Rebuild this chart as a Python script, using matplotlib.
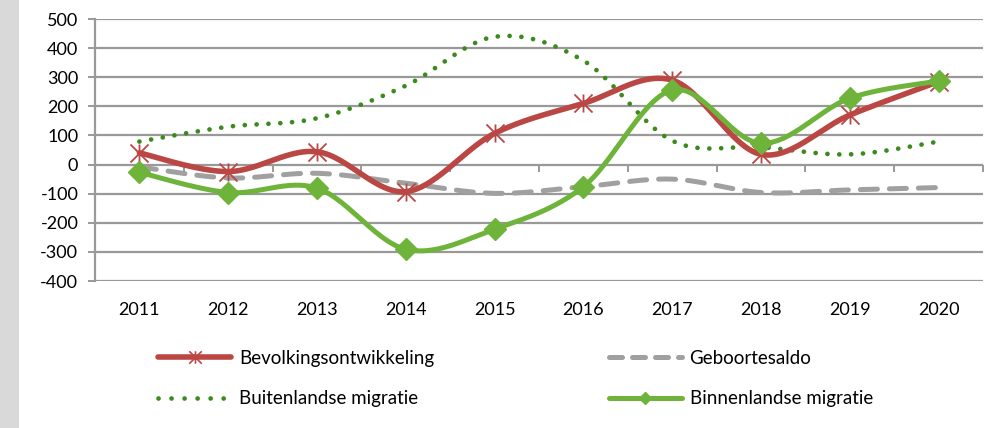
import numpy as np
import matplotlib
matplotlib.use('Agg')
import matplotlib.pyplot as plt
from matplotlib.path import Path
from matplotlib.lines import Line2D
from matplotlib.patches import Rectangle

years = ['2011', '2012', '2013', '2014', '2015', '2016', '2017', '2018', '2019', '2020']
bevolking = [40, -24, 44, -93, 107, 210, 290, 35, 170, 285]
geboorte = [-8, -46, -30, -64, -99, -76, -50, -96, -87, -79]
buiten = [79, 130, 159, 271, 439, 357, 82, 60, 35, 79]
binnen = [-27, -96, -81, -291, -222, -76, 256, 73, 228, 287]
labels = ['Bevolkingsontwikkeling', 'Geboortesaldo', 'Buitenlandse migratie', 'Binnenlandse migratie']
yticks = list(range(-400, 501, 100))

plt.rcParams['font.family'] = ['Lato', 'DejaVu Sans']
plt.rcParams['axes.unicode_minus'] = False

RED = '#BA4744'
GREY = '#A0A0A0'
DGREEN = '#3C8A1E'
LGREEN = '#6FB43A'
GRID = '#999999'


def smooth(x, y, n=30):
    """Excel-style smoothed curve (Catmull-Rom Bezier) through the data points."""
    P = np.column_stack([x, y]).astype(float)
    m = len(P)
    out = []
    for i in range(m - 1):
        p0 = P[i - 1] if i > 0 else P[i]
        p1 = P[i]
        p2 = P[i + 1]
        p3 = P[i + 2] if i + 2 < m else P[i + 1]
        c1 = p1 + (p2 - p0) / 6.0
        c2 = p2 - (p3 - p1) / 6.0
        t = np.linspace(0, 1, n)[:, None]
        seg = ((1 - t) ** 3) * p1 + 3 * ((1 - t) ** 2) * t * c1 + 3 * (1 - t) * t ** 2 * c2 + t ** 3 * p2
        if i > 0:
            seg = seg[1:]
        out.append(seg)
    out = np.vstack(out)
    return out[:, 0], out[:, 1]


star = Path([(0, -1), (0, 1), (-1, -1), (1, 1), (-1, 1), (1, -1)],
            [Path.MOVETO, Path.LINETO, Path.MOVETO, Path.LINETO, Path.MOVETO, Path.LINETO])

fig = plt.figure(figsize=(9.91, 4.28), dpi=100)
fig.patches.append(Rectangle((0, 0), 19 / 991, 1, transform=fig.transFigure,
                             facecolor='#D9D9D9', edgecolor='none', zorder=0))

ax = fig.add_axes([95 / 991, 1 - 281 / 428, (983 - 95) / 991, (281 - 19) / 428])
x = np.arange(len(years))
ymin, ymax = yticks[0], yticks[-1]
ax.set_xlim(-0.5, len(years) - 0.5)
ax.set_ylim(ymin, ymax)

for v in yticks:
    ax.axhline(v, color=GRID, lw=1.6, zorder=1)

for s in ['top', 'right', 'bottom']:
    ax.spines[s].set_visible(False)
ax.spines['left'].set_color(GRID)
ax.spines['left'].set_linewidth(1.6)

ax.set_yticks(yticks)
ax.tick_params(axis='y', length=5, width=1.4, color=GRID, pad=7, labelsize=13)
ax.set_xticks(x)
ax.set_xticklabels(years)
ax.tick_params(axis='x', length=0, pad=15, labelsize=13)

sec = ax.secondary_xaxis((0 - ymin) / (ymax - ymin))
sec.set_xticks(np.arange(len(years) + 1) - 0.5)
sec.set_xticklabels([])
sec.tick_params(length=5, width=1.4, color=GRID)
sec.spines['bottom'].set_visible(False)

# Geboortesaldo
gx, gy = smooth(x, geboorte)
ax.plot(gx, gy, color=GREY, lw=3.6, dashes=(3.4, 2.4), dash_capstyle='round', zorder=3)
# Buitenlandse migratie
bx, by = smooth(x, buiten)
ax.plot(bx, by, color=DGREEN, lw=3.4, dashes=(0.01, 2.5), dash_capstyle='round', zorder=3)
# Bevolkingsontwikkeling
rx, ry = smooth(x, bevolking)
ax.plot(rx, ry, color=RED, lw=4.0, solid_capstyle='round', zorder=4)
ax.plot(x, bevolking, ls='none', marker=star, ms=13, mew=1.3, mec=RED, mfc='none', zorder=5)
# Binnenlandse migratie
nx, ny = smooth(x, binnen)
ax.plot(nx, ny, color=LGREEN, lw=3.6, solid_capstyle='round', zorder=6)
ax.plot(x, binnen, ls='none', marker='D', ms=11, mec=LGREEN, mfc=LGREEN, zorder=7)

h_red = Line2D([], [], color=RED, lw=4.0, solid_capstyle='round', marker=star, ms=9,
               mew=1.2, mec=RED, markevery=[1])
h_grey = Line2D([], [], color=GREY, lw=3.6, dashes=(2.6, 2.0), dash_capstyle='round')
h_dot = Line2D([], [], color=DGREEN, lw=3.4, dashes=(0.01, 2.75), dash_capstyle='round')
h_grn = Line2D([], [], color=LGREEN, lw=3.6, solid_capstyle='round', marker='D', ms=6,
               mec=LGREEN, mfc=LGREEN, markevery=[1])
for h in (h_red, h_grey, h_dot, h_grn):
    h.set_data([0, 0.5, 1], [0, 0, 0])

fig.legend([h_red, h_dot, h_grey, h_grn], [labels[0], labels[2], labels[1], labels[3]],
           ncol=2, loc='upper left', bbox_to_anchor=(158 / 991, 1 - 350 / 428),
           frameon=False, fontsize=13.5, handlelength=3.9, handletextpad=0.42,
           columnspacing=9.3, labelspacing=1.25, borderpad=0, borderaxespad=0)

fig.savefig('out.png', dpi=100)
